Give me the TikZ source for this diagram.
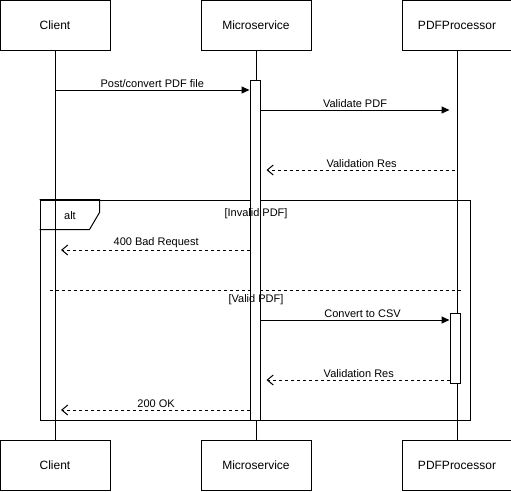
\documentclass[tikz,border=0pt]{standalone}
\usepackage{fontspec}
\setmainfont{Liberation Sans}
\usetikzlibrary{positioning}
\usetikzlibrary{arrows.meta}

\begin{document}
\begin{tikzpicture}[x=1pt, y=-1pt, line width=1pt,
actor/.style={draw, rectangle, minimum width=110pt, minimum height=50pt,
inner sep=0pt, font=\fontsize{12}{14}\selectfont},
    bar/.style={draw, fill=white, rectangle, minimum width=10pt, inner sep=0pt},
    msg/.style={-{Triangle[length=8pt, width=7pt]}},
    reply/.style={dashed, shorten >=6pt, -{Straight Barb[length=6pt, width=10pt]}},
    lbl/.style={above, inner sep=2pt, font=\fontsize{11}{13}\selectfont}]
    \useasboundingbox (0,0) rectangle (511,491);
    \node[actor] (client) at (55,25) {Client};
    \node[actor] (service) [right=90pt of client] {Microservice};
    \node[actor] (processor) [right=90pt of service] {PDFProcessor};
    \node[actor] (client2) at (55,465) {Client};
    \node[actor] (service2) [right=90pt of client2] {Microservice};
    \node[actor] (processor2) [right=90pt of service2] {PDFProcessor};

\draw (client) -- (client2);
\draw (service) -- (service2);
\draw (processor) -- (processor2);

% alt fragment
\node[draw, rectangle, minimum width=430pt, minimum height=220pt, inner sep=0pt]
    (frame) at (255,310) {};
\draw (frame.north west) -- ++(60,0) -- ++(0,13) -- ++(-10,17) -- ++(-50,0);
\node[font=\fontsize{11}{13}\selectfont] (alt) at (70,216) {alt};
\draw[dashed] (50,290) -- (463,290);

\node[bar, minimum height=340pt] (sbar) at (255,250) {};
\node[bar, minimum height=70pt] (pbar) at (455,348) {};

% guards on top of the bar
\node[font=\fontsize{11}{13}\selectfont] (invalid) at (256,214) {[Invalid PDF]};
\node[font=\fontsize{11}{13}\selectfont] (valid) at (256,300) {[Valid PDF]};

\coordinate (m1) at (55,90);
\coordinate (m2) at (455,110);
\coordinate (m3) at (455,170);
\coordinate (m4) at (55,250);
\coordinate (m5) at (455,320);
\coordinate (m6) at (455,380);
\coordinate (m7) at (55,410);

\draw[msg] (m1) -- (m1 -| sbar.west) node[lbl, midway] {Post/convert PDF file};
\draw[msg] (m2 -| sbar.east) -- (m2 -| pbar.west) node[lbl, midway] {Validate PDF};
\draw[reply] (m3) -- (m3 -| sbar.east) node[lbl, pos=0.48] {Validation Res};
\draw[reply] (m4 -| sbar.west) -- (m4) node[lbl, pos=0.48] {400 Bad Request};
\draw[msg] (m5 -| sbar.east) -- (m5 -| pbar.west) node[lbl, pos=0.54] {Convert to CSV};
\draw[reply] (m6 -| pbar.west) -- (m6 -| sbar.east) node[lbl, pos=0.48] {Validation Res};
\draw[reply] (m7 -| sbar.west) -- (m7) node[lbl, pos=0.48] {200 OK};
\end{tikzpicture}
\end{document}
